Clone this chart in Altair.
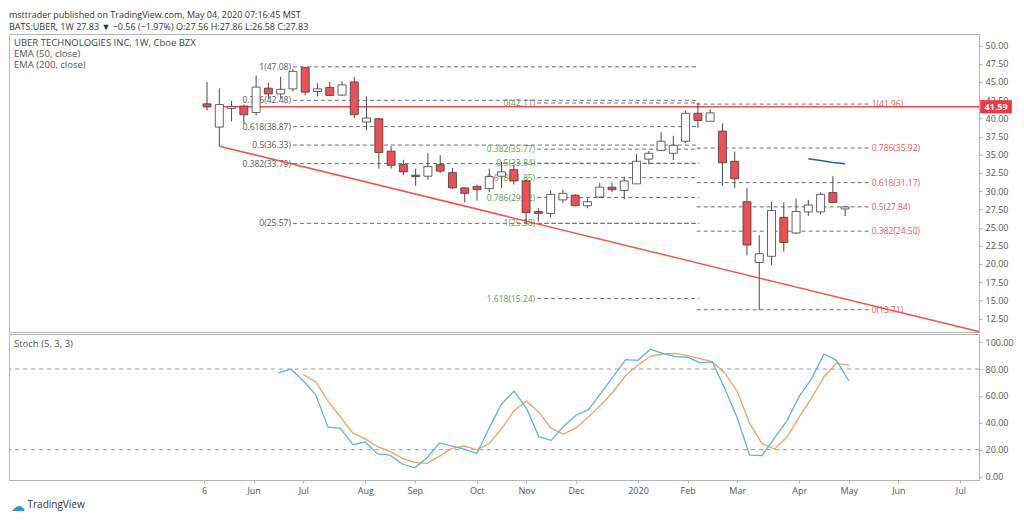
import altair as alt
import pandas as pd

FONT = "Open Sans"

# ---------------- data ----------------
first_week = "2019-05-06"          # week index 0 (weekly bars)
opens = [42.0, 38.8, 41.35, 41.7, 40.8, 44.15, 43.35, 44.05, 46.95, 43.7,
         44.25, 43.2, 45.0, 39.5, 39.95, 35.5, 33.65, 32.2, 32.05, 33.65,
         32.55, 30.45, 30.65, 30.35, 32.05, 32.95, 31.4, 27.2, 26.95, 28.8,
         29.45, 28.0, 29.2, 30.55, 30.1, 31.0, 34.4, 35.6, 35.2, 36.85,
         40.7, 39.6, 38.25, 34.1, 28.55, 20.2, 21.05, 26.4, 24.25, 27.15,
         27.15, 29.8, 27.56]
highs = [45.0, 44.1, 42.4, 41.9, 45.9, 44.9, 45.7, 46.8, 47.08, 44.8,
         45.0, 45.1, 45.7, 43.0, 40.05, 36.2, 34.3, 33.1, 35.2, 34.95,
         33.2, 30.5, 30.9, 33.1, 34.0, 33.55, 31.65, 27.7, 30.1, 30.2,
         29.55, 29.0, 31.1, 31.2, 32.0, 35.1, 35.5, 38.1, 37.6, 41.05,
         42.11, 41.25, 39.3, 35.45, 30.45, 23.95, 28.55, 28.45, 29.0, 28.8,
         29.85, 32.05, 27.86]
lows = [41.1, 36.18, 39.6, 39.3, 40.4, 42.7, 42.7, 43.7, 43.15, 43.0,
        43.1, 43.1, 40.05, 38.4, 33.1, 33.1, 32.2, 30.75, 31.55, 32.5,
        30.3, 28.45, 28.7, 29.85, 30.45, 30.9, 25.58, 25.8, 26.4, 28.4,
        27.9, 27.65, 29.1, 29.85, 28.9, 31.0, 33.65, 35.5, 34.3, 36.6,
        38.7, 39.6, 30.75, 30.45, 21.15, 13.71, 19.85, 21.7, 24.1, 26.6,
        26.8, 28.45, 26.58]
closes = [41.57, 41.9, 41.6, 40.5, 44.3, 43.35, 44.0, 46.45, 43.6, 44.05,
          43.15, 44.6, 40.5, 40.05, 35.3, 33.55, 32.65, 32.0, 33.4, 32.75,
          30.45, 29.7, 30.2, 32.0, 32.65, 31.4, 27.05, 26.95, 29.55, 29.7,
          28.0, 28.55, 30.55, 30.2, 31.4, 34.1, 35.2, 36.85, 36.3, 40.7,
          39.7, 40.75, 33.9, 31.7, 22.6, 21.4, 27.35, 22.95, 27.2, 28.1,
          29.55, 28.45, 27.83]

ema50_weeks = [49, 50, 51, 52]
ema50 = [34.45, 34.2, 33.95, 33.75]

stoch_k_weeks = list(range(6, 53))
stoch_k = [77.1, 80.0, 71.3, 60.8, 36.7, 35.8, 23.8, 25.7, 16.8, 15.9,
           9.3, 6.5, 14.0, 25.0, 22.7, 20.3, 17.0, 36.2, 54.0, 63.6,
           50.9, 29.7, 26.9, 37.4, 45.6, 49.8, 61.9, 74.3, 87.0, 86.5,
           94.7, 91.6, 89.3, 88.8, 84.6, 85.3, 65.4, 43.7, 15.9, 15.6,
           28.5, 41.4, 59.6, 72.9, 91.2, 86.5, 71.3]
stoch_d_weeks = list(range(8, 53))
stoch_d = [75.9, 70.6, 56.1, 44.4, 32.3, 28.0, 22.2, 18.7, 13.5, 10.5,
           9.8, 15.2, 21.0, 22.7, 19.8, 24.5, 35.6, 49.0, 56.1, 47.9,
           35.8, 31.6, 36.2, 44.4, 53.3, 63.1, 75.2, 83.0, 89.5, 91.2,
           91.6, 90.0, 87.7, 85.3, 77.1, 63.5, 39.7, 24.5, 20.5, 29.2,
           44.4, 58.4, 74.3, 84.2, 83.0]
stoch_levels = [80, 20]

fibA_levels = ["1", "0.786", "0.618", "0.5", "0.382", "0"]
fibA_prices = [47.08, 42.48, 38.87, 36.33, 33.79, 25.57]
fibA_span = [7.0, 40.1]
fibB_levels = ["0", "0.382", "0.5", "0.618", "0.786", "1", "1.618"]
fibB_prices = [42.11, 35.77, 33.84, 31.85, 29.12, 25.58, 15.24]
fibB_span = [26.9, 40.1]
fibC_levels = ["1", "0.786", "0.618", "0.5", "0.382", "0"]
fibC_prices = [41.96, 35.92, 31.17, 27.84, 24.50, 13.71]
fibC_span = [39.9, 54.0]

trend_weeks = [1, 64]
trend_prices = [36.18, 10.25]
hline_price = 41.59
hline_weeks = [1, 64]

price_ticks = [12.5, 15, 17.5, 20, 22.5, 25, 27.5, 30, 32.5, 35, 37.5, 40, 42.5, 45, 47.5, 50]
stoch_ticks = [0, 20, 40, 60, 80, 100]
time_tick_weeks = [0, 4, 8, 13, 17, 22, 26, 30, 35, 39, 43, 48, 52, 56, 61]
time_tick_labels = ["6", "Jun", "Jul", "Aug", "Sep", "Oct", "Nov", "Dec", "2020",
                    "Feb", "Mar", "Apr", "May", "Jun", "Jul"]

# ---------------- layout ----------------
W = 970
H_MAIN = 298
H_STOCH = 146
xs = alt.Scale(domain=[-15.73, 62.5], nice=False, zero=False)
ys = alt.Scale(domain=[10.65, 51.59], nice=False, zero=False)
ss = alt.Scale(domain=[-2.6, 106.1], nice=False, zero=False)

price_axis = alt.Axis(orient="right", values=price_ticks, format=".2f", title=None,
                      grid=False, tickSize=3, labelPadding=3)
stoch_axis = alt.Axis(orient="right", values=stoch_ticks, format=".2f", title=None,
                      grid=False, tickSize=3, labelPadding=3)
arr_l = "[" + ",".join("'%s'" % s for s in time_tick_labels) + "]"
arr_w = "[" + ",".join(str(v) for v in time_tick_weeks) + "]"
time_axis = alt.Axis(values=time_tick_weeks, labelExpr=f"{arr_l}[indexof({arr_w}, datum.value)]",
                     title="TradingView", titleAnchor="start", titleAlign="left", titleX=18,
                     titleFontSize=10, titleFontWeight="normal", titleColor="#333",
                     titlePadding=4, tickSize=3, labelPadding=3, grid=False, labelFlush=False)

X_MAIN = lambda f: alt.X(f, scale=xs, axis=None)
Y_MAIN = lambda f: alt.Y(f, scale=ys, axis=price_axis)

candles = pd.DataFrame({"w": list(range(len(opens))), "o": opens, "h": highs,
                        "l": lows, "c": closes})


def fib_frame(levels, prices, span):
    return pd.DataFrame({"x1": [span[0]] * len(prices), "x2": [span[1]] * len(prices),
                         "p": prices,
                         "label": [f"{lv}({p:.2f})" for lv, p in zip(levels, prices)]})


fibA = fib_frame(fibA_levels, fibA_prices, fibA_span)
fibB = fib_frame(fibB_levels, fibB_prices, fibB_span)
fibC = fib_frame(fibC_levels, fibC_prices, fibC_span)


def fib_layers(df, color, side):
    lines = alt.Chart(df).mark_rule(strokeDash=[4, 3], color="#707070", strokeWidth=1).encode(
        x=X_MAIN("x1:Q"), x2="x2:Q", y=Y_MAIN("p:Q"))
    if side == "left":
        labs = alt.Chart(df).mark_text(align="right", baseline="middle", dx=-2, fontSize=8.5,
                                       font=FONT, color=color).encode(
            x=X_MAIN("x1:Q"), y=Y_MAIN("p:Q"), text="label:N")
    else:
        labs = alt.Chart(df).mark_text(align="left", baseline="middle", dx=2, fontSize=8.5,
                                       font=FONT, color=color).encode(
            x=X_MAIN("x2:Q"), y=Y_MAIN("p:Q"), text="label:N")
    return [lines, labs]


hline = alt.Chart(pd.DataFrame({"w1": [hline_weeks[0]], "w2": [hline_weeks[1]], "p": [hline_price]})).mark_rule(
    color="#ef4b4b", strokeWidth=1.5, clip=True).encode(x=X_MAIN("w1:Q"), x2="w2:Q", y=Y_MAIN("p:Q"))

trend = alt.Chart(pd.DataFrame({"w": trend_weeks, "p": trend_prices})).mark_line(
    color="#ef5a50", strokeWidth=1.5, clip=True).encode(x=X_MAIN("w:Q"), y=Y_MAIN("p:Q"))

wicks = alt.Chart(candles).mark_rule(color="#4a4a4a", strokeWidth=1).encode(
    x=X_MAIN("w:Q"), y=Y_MAIN("l:Q"), y2="h:Q")
bodies = alt.Chart(candles).mark_bar(size=8, stroke="#3d3d3d", strokeWidth=0.8).encode(
    x=X_MAIN("w:Q"), y=Y_MAIN("o:Q"), y2="c:Q",
    fill=alt.condition("datum.c >= datum.o", alt.value("#ffffff"), alt.value("#ef4f4f")))

ema_line = alt.Chart(pd.DataFrame({"w": ema50_weeks, "p": ema50})).mark_line(
    color="#2c5fb3", strokeWidth=1.5).encode(x=X_MAIN("w:Q"), y=Y_MAIN("p:Q"))

tag_df = pd.DataFrame({"p": [hline_price]})
tag_box = alt.Chart(tag_df).mark_point(
    shape="M-1,-0.42L1,-0.42L1,0.42L-1,0.42Z", size=1000, filled=True,
    color="#f23645", opacity=1).encode(x=alt.value(W + 17), y=Y_MAIN("p:Q"))
tag_txt = alt.Chart(tag_df).mark_text(color="white", fontSize=9, fontWeight="bold", font=FONT).encode(
    x=alt.value(W + 17), y=Y_MAIN("p:Q"), text=alt.Text("p:Q", format=".2f"))


def label(txt, x, y, **kw):
    return alt.Chart(pd.DataFrame({"t": [txt]})).mark_text(
        align="left", baseline="middle", font=FONT, **kw).encode(
        x=alt.value(x), y=alt.value(y), text="t:N")


main = alt.layer(
    *fib_layers(fibA, "#555555", "left"),
    *fib_layers(fibB, "#5b9e4d", "left"),
    *fib_layers(fibC, "#e25c5c", "right"),
    hline, trend, wicks, bodies, ema_line,
    tag_box, tag_txt,
    label("UBER TECHNOLOGIES INC, 1W, Cboe BZX", 5, 9, fontSize=9.5, color="#444"),
    label("EMA (50, close)", 5, 20, fontSize=9.5, color="#555"),
    label("EMA (200, close)", 5, 31, fontSize=9.5, color="#555"),
).properties(width=W, height=H_MAIN)

X_ST = lambda f: alt.X(f, scale=xs, axis=time_axis)
Y_ST = lambda f: alt.Y(f, scale=ss, axis=stoch_axis)

st_levels = alt.Chart(pd.DataFrame({"v": stoch_levels})).mark_rule(
    strokeDash=[4, 4], color="#9a9a9a", strokeWidth=1).encode(y=Y_ST("v:Q"))
k_line = alt.Chart(pd.DataFrame({"w": stoch_k_weeks, "v": stoch_k})).mark_line(
    color="#5ab8dc", strokeWidth=1.3).encode(x=X_ST("w:Q"), y=Y_ST("v:Q"))
d_line = alt.Chart(pd.DataFrame({"w": stoch_d_weeks, "v": stoch_d})).mark_line(
    color="#f3a35e", strokeWidth=1.3).encode(x=X_ST("w:Q"), y=Y_ST("v:Q"))

stoch = alt.layer(
    st_levels, d_line, k_line,
    label("Stoch (5, 3, 3)", 5, 10, fontSize=9.5, color="#555"),
    label("\u2601", 2, H_STOCH + 27, fontSize=14, color="#2f8fe0"),
).properties(width=W, height=H_STOCH)

chart = alt.vconcat(main, stoch, spacing=0).properties(
    title=alt.TitleParams(
        text="msttrader published on TradingView.com, May 04, 2020 07:16:45 MST",
        subtitle="BATS:UBER, 1W  27.83 \u25bc \u22120.56 (\u22121.97%)  O:27.56 H:27.86 L:26.58 C:27.83",
        anchor="start", frame="group", font=FONT, subtitleFont=FONT,
        fontSize=9, subtitleFontSize=9, fontWeight="normal", color="#333",
        subtitleColor="#333", offset=2, subtitlePadding=3),
    padding={"left": 0, "top": 2, "right": 0, "bottom": 0},
).configure_view(stroke="#b5b5b5").configure_axis(
    labelFont=FONT, labelFontSize=9, labelColor="#555", domainColor="#b5b5b5",
    tickColor="#b5b5b5", titleFont=FONT)

chart.save("out.html", embed_options={"renderer": "svg", "actions": False})
